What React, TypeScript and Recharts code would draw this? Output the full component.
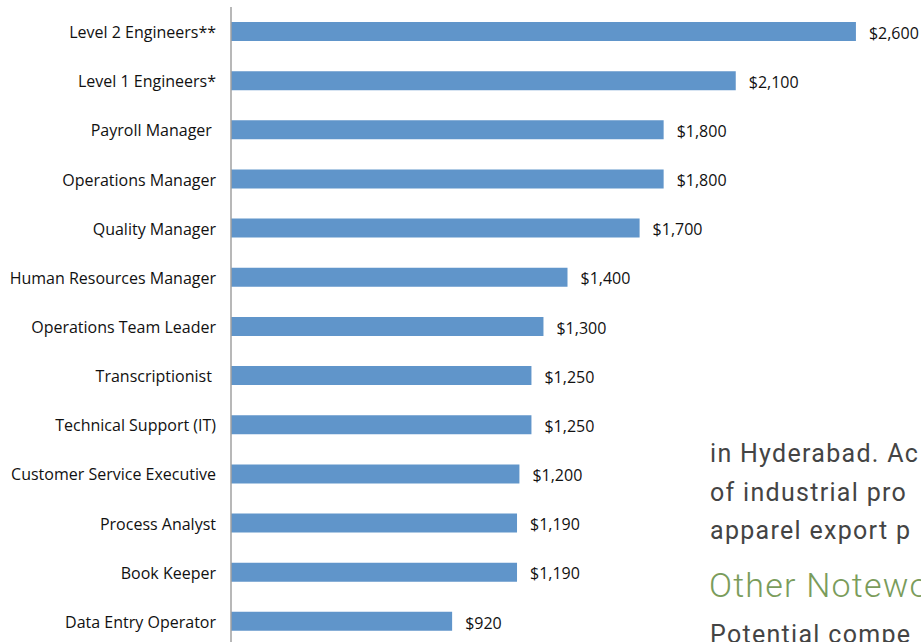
import { Bar, BarChart, LabelList, XAxis, YAxis } from 'recharts';

const roles = [
  'Level 2 Engineers**',
  'Level 1 Engineers*',
  'Payroll Manager ',
  'Operations Manager',
  'Quality Manager',
  'Human Resources Manager',
  'Operations Team Leader',
  'Transcriptionist ',
  'Technical Support (IT)',
  'Customer Service Executive',
  'Process Analyst',
  'Book Keeper',
  'Data Entry Operator',
];

const salaries = [2600, 2100, 1800, 1800, 1700, 1400, 1300, 1250, 1250, 1200, 1190, 1190, 920];

const bodyLines = ['in Hyderabad. Ac', 'of industrial pro', 'apparel export p'];
const heading = 'Other Notewo';
const trailingLine = 'Potential compe';

const data = roles.map((role, i) => ({ role, salary: salaries[i] }));

const FONT = '"Open Sans", sans-serif';

function RoleTick({ x, y, payload }: any) {
  return (
    <text
      x={x}
      y={y}
      dy={6.5}
      textAnchor="end"
      fill="#111"
      fontSize={16}
      fontFamily={FONT}
      style={{ whiteSpace: 'pre' }}
    >
      {payload.value}
    </text>
  );
}

const money = (v: any) => '$' + Number(v).toLocaleString('en-US');

export default function App() {
  return (
    <div
      style={{
        position: 'absolute',
        left: 0,
        top: 0,
        width: 921,
        height: 642,
        overflow: 'hidden',
        background: '#fff',
      }}
    >
      <BarChart
        width={921}
        height={646}
        data={data}
        layout="vertical"
        margin={{ top: 7, right: 17, bottom: 0, left: 0 }}
        barSize={19}
      >
        <XAxis type="number" domain={[0, 2800]} hide />
        <YAxis
          type="category"
          dataKey="role"
          width={231}
          tickLine={false}
          tickSize={0}
          tickMargin={15}
          axisLine={{ stroke: '#a0a0a0', strokeWidth: 1.5 }}
          tick={<RoleTick />}
          interval={0}
        />
        <Bar dataKey="salary" fill="#6095ca" isAnimationActive={false}>
          <LabelList
            dataKey="salary"
            position="right"
            offset={13}
            formatter={money}
            fill="#111"
            fontSize={16}
            fontFamily={FONT}
            dy={1.5}
          />
        </Bar>
      </BarChart>

      <div style={{ position: 'absolute', left: 710, top: 435, color: '#444', fontFamily: 'Roboto, sans-serif', fontSize: 25, lineHeight: '38.5px', whiteSpace: 'pre', letterSpacing: 1.3 }}>
        {bodyLines.map((line) => (
          <div key={line}>{line}</div>
        ))}
      </div>
      <div style={{ position: 'absolute', left: 709, top: 564, color: '#7a9c5b', fontFamily: 'Roboto, sans-serif', fontSize: 34, lineHeight: '42px', whiteSpace: 'pre', letterSpacing: 1.2, fontWeight: 300 }}>
        {heading}
      </div>
      <div style={{ position: 'absolute', left: 710, top: 616, color: '#444', fontFamily: 'Roboto, sans-serif', fontSize: 25, lineHeight: '38px', whiteSpace: 'pre', letterSpacing: 1.3 }}>
        {trailingLine}
      </div>
    </div>
  );
}
